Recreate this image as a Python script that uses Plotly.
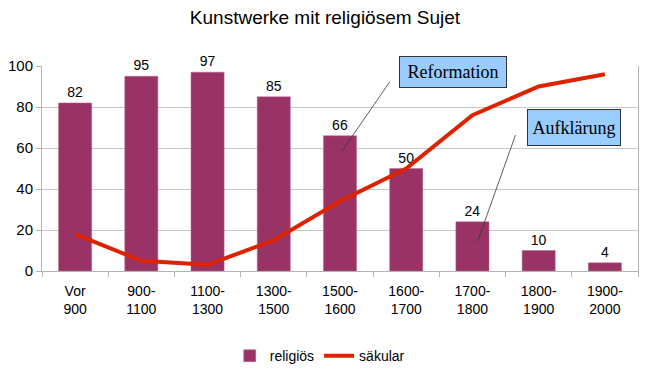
import plotly.graph_objects as go

categories = ["Vor<br>900", "900-<br>1100", "1100-<br>1300", "1300-<br>1500", "1500-<br>1600",
              "1600-<br>1700", "1700-<br>1800", "1800-<br>1900", "1900-<br>2000"]
religioes = [82, 95, 97, 85, 66, 50, 24, 10, 4]
saekular = [18, 5, 3, 15, 34, 50, 76, 90, 96]

FONT = "Liberation Sans, Arial, sans-serif"
SERIF = "Liberation Serif, Times New Roman, serif"

fig = go.Figure()
fig.add_trace(go.Bar(
    x=categories, y=religioes, name="religiös",
    marker=dict(color="#993366", line=dict(color="#b86b8e", width=0.5)),
    text=[str(v) for v in religioes], textposition="outside",
    textfont=dict(family=FONT, size=14, color="#000000"),
    cliponaxis=False,
))
fig.add_trace(go.Scatter(
    x=categories, y=saekular, name="säkular", mode="lines",
    line=dict(color="#dd2200", width=4),
))

# annotation leader lines (category index coordinates)
fig.add_shape(type="line", x0=4.75, y0=92.2, x1=4.03, y1=58.5,
              line=dict(color="#333333", width=0.8))
fig.add_shape(type="line", x0=6.65, y0=66.3, x1=6.08, y1=14.6,
              line=dict(color="#333333", width=0.8))

fig.add_annotation(x=5.71, y=97.3, text="Reformation", showarrow=False,
                   font=dict(family=SERIF, size=18, color="#000000"),
                   bgcolor="#99ccff", bordercolor="#333333", borderwidth=1,
                   borderpad=3, width=100, height=24)
fig.add_annotation(x=7.53, y=70.0, text="Aufklärung", showarrow=False,
                   font=dict(family=SERIF, size=18, color="#000000"),
                   bgcolor="#99ccff", bordercolor="#333333", borderwidth=1,
                   borderpad=3, width=86, height=29)

# page body has an 8px margin; margins compensate so the plot area lands in place
fig.update_layout(
    width=650, height=374,
    paper_bgcolor="white", plot_bgcolor="white",
    margin=dict(l=34, r=20, t=58, b=111, autoexpand=False),
    title=dict(text="Kunstwerke mit religiösem Sujet", x=(325 - 8) / 650, xanchor="center",
               xref="container",
               y=1 - 9 / 374, yanchor="middle",
               font=dict(family=FONT, size=19, color="#000000")),
    bargap=0.5,
    showlegend=True,
    legend=dict(orientation="h", x=0.315, xanchor="left", y=-0.415, yanchor="middle",
                font=dict(family=FONT, size=14, color="#000000"),
                itemwidth=30, tracegroupgap=0),
    font=dict(family=FONT, size=14, color="#000000"),
)
fig.update_xaxes(
    type="category", tickson="boundaries", ticks="outside", ticklen=5,
    tickcolor="#b3b3b3", showline=True, linecolor="#b3b3b3", linewidth=1,
    mirror=False, showgrid=False, automargin=False, ticklabelstandoff=7,
    tickfont=dict(family=FONT, size=14, color="#000000"),
)
fig.update_yaxes(
    range=[0, 100], dtick=20, ticks="outside", ticklen=5, tickcolor="#b3b3b3",
    showline=True, linecolor="#b3b3b3", linewidth=1, mirror=True,
    showgrid=True, gridcolor="#c8c8c8", gridwidth=1, zeroline=False,
    automargin=False,
    tickfont=dict(family=FONT, size=15, color="#000000"),
)

fig.write_html("out.html")
